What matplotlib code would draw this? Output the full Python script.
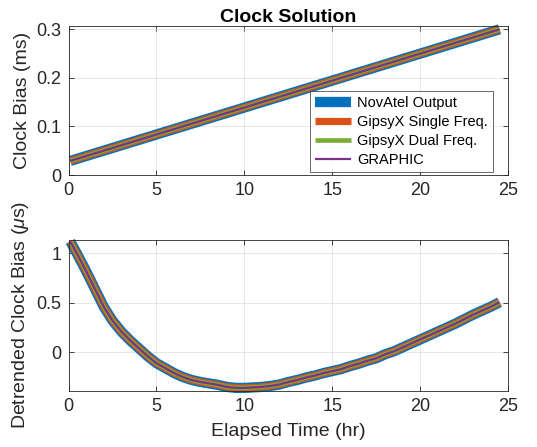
import matplotlib
matplotlib.use("Agg")
import matplotlib.pyplot as plt
import numpy as np

plt.rcParams['font.family'] = ['Liberation Sans', 'DejaVu Sans']
plt.rcParams['mathtext.fontset'] = 'custom'
plt.rcParams['mathtext.it'] = 'Liberation Sans:italic'
plt.rcParams['mathtext.rm'] = 'Liberation Sans'

# ---- data ----
series_names = ["NovAtel Output", "GipsyX Single Freq.", "GipsyX Dual Freq.", "GRAPHIC"]
series_colors = ["#0072BD", "#D95319", "#77AC30", "#7E2F8E"]

t_top = [0.1, 24.5]
bias_ms = [0.029, 0.300]

t_det = [0.1, 0.5, 1.0, 1.5, 2.0, 2.5, 3.0, 3.5, 4.0, 4.5, 5.0, 5.5, 6.0, 6.5, 7.0,
         7.5, 8.0, 8.5, 9.0, 9.5, 10.0, 10.5, 11.0, 11.5, 12.0, 12.5, 13.0, 13.5,
         14.0, 14.5, 15.0, 15.5, 16.0, 16.5, 17.0, 17.5, 18.0, 18.5, 19.0, 19.5,
         20.0, 20.5, 21.0, 21.5, 22.0, 22.5, 23.0, 23.5, 24.0, 24.5]
detrended_us = [1.12, 0.99, 0.82, 0.64, 0.46, 0.32, 0.21, 0.12, 0.04, -0.04, -0.11,
                -0.16, -0.21, -0.25, -0.28, -0.30, -0.315, -0.33, -0.35, -0.36, -0.36,
                -0.355, -0.35, -0.34, -0.325, -0.30, -0.28, -0.255, -0.235, -0.21,
                -0.19, -0.17, -0.14, -0.115, -0.085, -0.06, -0.02, 0.01, 0.05, 0.09,
                0.13, 0.17, 0.21, 0.25, 0.29, 0.335, 0.38, 0.42, 0.46, 0.505]

x_ticks = [0, 5, 10, 15, 20, 25]
top_yticks = [0, 0.1, 0.2, 0.3]
bot_yticks = [0, 0.5, 1]

line_widths = [7.4, 5.2, 3.3, 1.6]

fig = plt.figure(figsize=(5.37, 4.47), dpi=100)
ax1 = fig.add_axes([0.1276, 0.6085, 0.819, 0.3333])
ax2 = fig.add_axes([0.1276, 0.126, 0.819, 0.337])

axc = '#262626'
for ax in (ax1, ax2):
    ax.set_xlim(0, 25)
    ax.set_xticks(x_ticks)
    ax.grid(True, color='#E3E3E3', linewidth=0.6)
    ax.set_axisbelow(True)
    ax.tick_params(direction='in', top=True, right=True, labelsize=13,
                   colors=axc, length=3.5, width=0.6, pad=5)
    for s in ax.spines.values():
        s.set_color('#262626')
        s.set_linewidth(0.6)

for name, c, lw in zip(series_names, series_colors, line_widths):
    ax1.plot(t_top, bias_ms, color=c, lw=lw, label=name, clip_on=False,
             solid_capstyle='butt')
    ax2.plot(t_det, detrended_us, color=c, lw=lw, label=name, clip_on=False,
             solid_capstyle='butt', solid_joinstyle='round')

ax1.set_ylim(0, 0.3068)
ax1.set_yticks(top_yticks)
ax1.set_yticklabels(['0', '0.1', '0.2', '0.3'])
ax1.set_ylabel('Clock Bias (ms)', fontsize=14, color='#262626', labelpad=4)
ax1.set_title('Clock Solution', fontsize=14, fontweight='bold', pad=3)

leg = ax1.legend(loc='lower right', bbox_to_anchor=(0.965, 0.02), fontsize=10.5,
                 frameon=True, fancybox=False, edgecolor='#262626',
                 handlelength=2.5, borderpad=0.35, labelspacing=0.33,
                 handletextpad=0.4, borderaxespad=0.0)
leg.get_frame().set_linewidth(0.6)

ax2.set_ylim(-0.388, 1.134)
ax2.set_yticks(bot_yticks)
ax2.set_yticklabels(['0', '0.5', '1'])
ax2.set_ylabel(r'Detrended Clock Bias ($\mu$s)', fontsize=14, color='#262626',
               labelpad=4)
ax2.set_xlabel('Elapsed Time (hr)', fontsize=14, color='#262626', labelpad=6)

fig.savefig('out.png', dpi=100)
